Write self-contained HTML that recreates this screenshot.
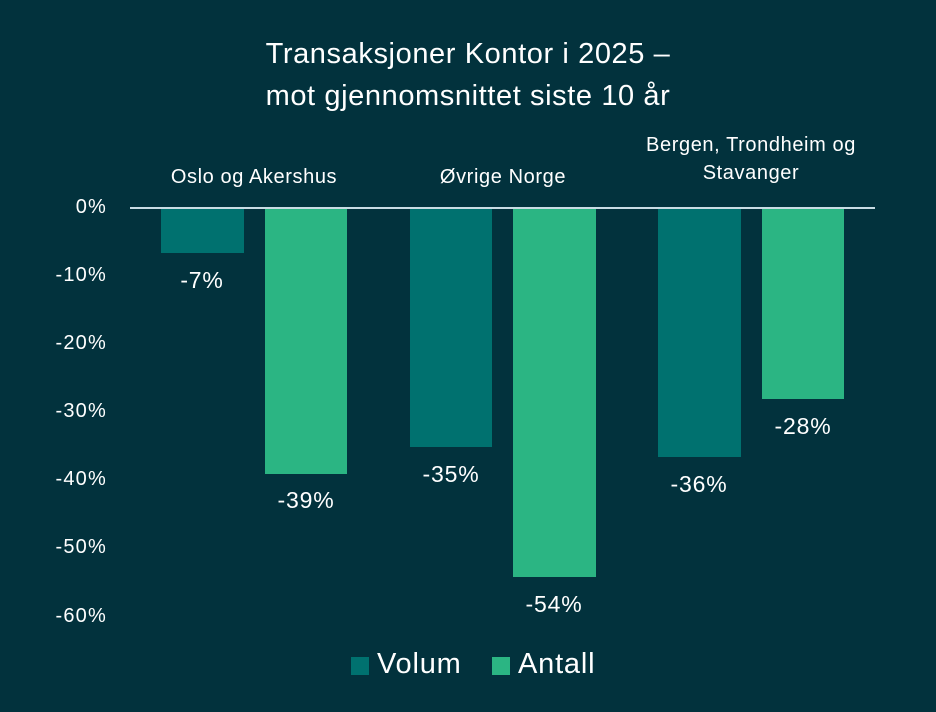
<!DOCTYPE html>
<html><head><style>
body{margin:0;width:936px;height:712px;background:#02323d;font-family:"Liberation Sans",sans-serif;color:#fff;position:relative;overflow:hidden}
div{position:absolute;white-space:nowrap}
.t{font-size:29px;text-align:center;width:936px;left:0;letter-spacing:0.6px}
.c{font-size:20px;text-align:center;width:260px;line-height:28px;letter-spacing:0.6px}
.y{font-size:20px;width:80px;text-align:right;left:27px;letter-spacing:1.2px}
.v{background:#00716f}.a{background:#2bb583}
.l{font-size:23px;text-align:center;width:120px;letter-spacing:0.8px}
</style></head><body>
<div class="t" style="top:33px;line-height:42px">Transaksjoner Kontor i 2025 –<br>mot gjennomsnittet siste 10 år</div>
<div class="c" style="left:124px;top:163px">Oslo og Akershus</div>
<div class="c" style="left:373px;top:163px">Øvrige Norge</div>
<div class="c" style="left:621px;top:131px">Bergen, Trondheim og<br>Stavanger</div>
<div class="y" style="top:196px">0%</div>
<div class="y" style="top:264px">-10%</div>
<div class="y" style="top:332px">-20%</div>
<div class="y" style="top:400px">-30%</div>
<div class="y" style="top:468px">-40%</div>
<div class="y" style="top:536px">-50%</div>
<div class="y" style="top:605px">-60%</div>
<div class="v" style="left:161px;top:208px;width:83px;height:45px"></div>
<div class="a" style="left:265px;top:208px;width:82px;height:266px"></div>
<div class="v" style="left:410px;top:208px;width:82px;height:239px"></div>
<div class="a" style="left:513px;top:208px;width:83px;height:369px"></div>
<div class="v" style="left:658px;top:208px;width:83px;height:249px"></div>
<div class="a" style="left:762px;top:208px;width:82px;height:191px"></div>
<div style="left:130px;top:207px;width:745px;height:2px;background:#c8dce4"></div>
<div class="l" style="left:142px;top:267px">-7%</div>
<div class="l" style="left:246px;top:487px">-39%</div>
<div class="l" style="left:391px;top:461px">-35%</div>
<div class="l" style="left:494px;top:591px">-54%</div>
<div class="l" style="left:639px;top:471px">-36%</div>
<div class="l" style="left:743px;top:413px">-28%</div>
<div style="left:351px;top:657px;width:18px;height:18px;background:#00716f"></div>
<div style="left:377px;top:648px;font-size:29px;letter-spacing:0.8px">Volum</div>
<div style="left:492px;top:657px;width:18px;height:18px;background:#2bb583"></div>
<div style="left:518px;top:648px;font-size:29px;letter-spacing:0.8px">Antall</div>
</body></html>
